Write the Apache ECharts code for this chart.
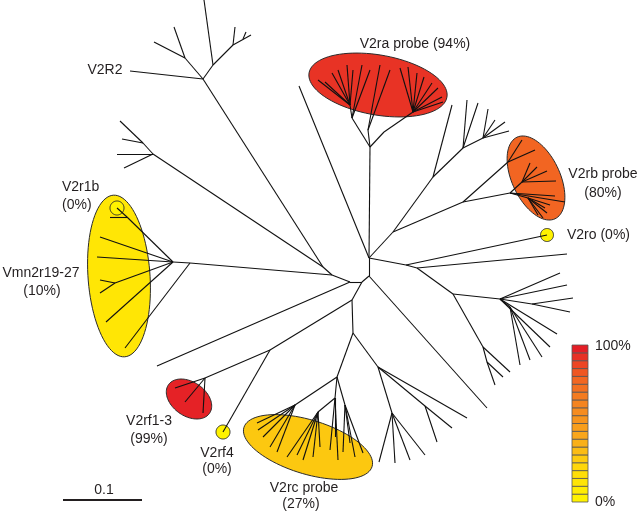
<!DOCTYPE html>
<html>
<head>
<meta charset="utf-8">
<script src="https://cdn.jsdelivr.net/npm/echarts@6/dist/echarts.min.js"></script>
<style>
html, body { margin: 0; padding: 0; background: #fff; }
#main { width: 640px; height: 513px; }
</style>
</head>
<body>
<div id="main"></div>
<script>
// tree: each entry is [parent node, [child nodes]], x right / y down
const backbone = [
  [[369, 258], [[370, 147], [299, 86], [393, 232], [406, 265], [369, 276]]],
  [[369, 276], [[487, 408], [362, 282]]],
  [[362, 282], [[350, 282], [352, 300]]],
  [[350, 282], [[332, 275], [157, 366]]],
  [[332, 275], [[323, 267], [190, 263]]],
  [[323, 267], [[203, 79], [153, 154]]],
  [[352, 300], [[353, 333], [270, 350]]]
];
const cladeV2R2 = [
  [[203, 79], [[130, 71], [185, 58], [213, 65]]],
  [[185, 58], [[154, 42], [174, 27]]],
  [[213, 65], [[204, 0], [233, 45]]],
  [[233, 45], [[235, 27], [251, 35]]],
  [[243, 39], [[246, 32]]]
];
const cladeUpperLeft = [
  [[153, 154], [[117, 154], [124, 168], [143, 143]]],
  [[143, 143], [[120, 121], [122, 139]]]
];
const cladeVmn = [
  [[190, 263], [[173, 262], [125, 348]]],
  [[173, 262], [[127, 217], [100, 237], [97, 257], [115, 283], [106, 322]]],
  [[127, 217], [[117, 208], [110, 217]]],
  [[115, 283], [[100, 280], [100, 293]]]
];
const cladeV2ra = [
  [[370, 147], [[352, 118], [368, 130], [384, 132]]],
  [[352, 118], [[350, 105], [362, 65], [370, 70]]],
  [[350, 105], [[318, 80], [325, 82], [332, 73], [338, 70], [347, 65], [353, 70]]],
  [[368, 130], [[380, 65], [390, 70]]],
  [[384, 132], [[413, 112]]],
  [[413, 112], [[400, 68], [408, 67], [417, 73], [424, 77], [432, 83], [438, 88], [442, 97], [443, 102]]]
];
const cladeUpperRight = [
  [[393, 232], [[433, 177], [463, 202]]],
  [[433, 177], [[452, 105], [463, 148]]],
  [[463, 148], [[467, 100], [478, 103], [483, 138]]],
  [[483, 138], [[488, 109], [495, 120], [505, 122], [509, 131]]]
];
const cladeV2rb = [
  [[463, 202], [[508, 162], [510, 193]]],
  [[508, 162], [[522, 140], [535, 150]]],
  [[510, 193], [[522, 182], [565, 202], [528, 198], [555, 196]]],
  [[522, 182], [[530, 163], [537, 167], [547, 171], [556, 181]]],
  [[528, 198], [[545, 208], [550, 205], [547, 213], [543, 218], [538, 215]]]
];
const cladeRight = [
  [[406, 265], [[547, 235], [417, 268]]],
  [[417, 268], [[567, 254], [453, 294]]],
  [[453, 294], [[500, 299], [483, 347]]],
  [[500, 299], [[560, 273], [567, 285], [532, 304], [557, 334], [550, 347], [510, 307]]],
  [[532, 304], [[573, 298], [570, 312]]],
  [[510, 307], [[520, 365], [530, 360], [542, 357]]],
  [[483, 347], [[487, 362], [510, 372]]],
  [[487, 362], [[495, 385], [503, 377]]]
];
const cladeLower = [
  [[353, 333], [[378, 367], [337, 377]]],
  [[378, 367], [[392, 413], [467, 418], [425, 406]]],
  [[392, 413], [[379, 462], [395, 463], [410, 460], [425, 455]]],
  [[425, 406], [[452, 428], [437, 442]]]
];
const cladeV2rc = [
  [[337, 377], [[335, 398], [345, 405], [295, 405]]],
  [[295, 405], [[257, 423], [258, 430], [263, 437], [270, 447], [277, 452]]],
  [[335, 398], [[318, 412], [330, 450], [335, 437], [338, 460]]],
  [[318, 412], [[287, 457], [297, 455], [303, 460], [313, 457], [320, 447]]],
  [[345, 405], [[343, 452], [350, 443], [355, 457], [363, 453]]]
];
const cladeV2rf = [
  [[270, 350], [[205, 378], [223, 432]]],
  [[205, 378], [[175, 388], [185, 402], [203, 413]]]
];

// highlighted groups: ellipse [cx, cy, semi-axis a, semi-axis b, tilt deg] and probe %
const groupNames = ['V2ra', 'V2rb', 'Vmn2r19-27', 'V2rc', 'V2rf1-3', 'V2r1b', 'V2ro', 'V2rf4'];
const groupPct = [94, 80, 10, 27, 99, 0, 0, 0];
const groupEllipse = [
  [378, 85, 70, 30, 10],
  [536, 178, 45, 24, 65],
  [119, 276, 81, 31, 86],
  [308, 447, 67, 27, 17],
  [189, 399, 25, 17, 35],
  [117, 208, 7, 7, 0],
  [547, 235, 6.5, 6.5, 0],
  [223, 432, 7, 7, 0]
];

// colour scale steps (bottom to top)
const scalePct = [0, 5, 11, 16, 21, 26, 32, 37, 42, 47, 53, 58, 63, 68, 74, 79, 84, 89, 95, 100];
const rampColors = ['#fff200', '#fed90a', '#f9a91a', '#f6891f', '#f26522', '#e41e26'];

function pctColor(p) {
  return echarts.color.lerp(p / 100, rampColors);
}

const clades = [backbone, cladeV2R2, cladeUpperLeft, cladeVmn, cladeV2ra, cladeUpperRight,
  cladeV2rb, cladeRight, cladeLower, cladeV2rc, cladeV2rf];
const segments = [];
clades.forEach(function (clade) {
  clade.forEach(function (fan) {
    fan[1].forEach(function (c) {
      segments.push({ coords: [fan[0], c] });
    });
  });
});

const ellipseData = groupEllipse.map(function (e, i) {
  return e.concat([groupPct[i]]);
});

const textFont = '14px "Liberation Sans", Arial, sans-serif';
const ink = '#231f20';
function label(text, x, y, align) {
  return {
    type: 'text', x: x, y: y, silent: true,
    style: { text: text, font: textFont, fill: ink, align: align || 'center', verticalAlign: 'middle',
      textAlign: align || 'center', textVerticalAlign: 'middle' }
  };
}

// colour bar
const barX = 572, barW = 16, barBottom = 502, cellH = 7.85;
const barCells = scalePct.map(function (p, i) {
  return {
    type: 'rect', silent: true,
    shape: { x: barX, y: barBottom - (i + 1) * cellH, width: barW, height: cellH },
    style: { fill: pctColor(p), stroke: '#555', lineWidth: 0.8 }
  };
});

const chart = echarts.init(document.getElementById('main'));
chart.setOption({
  animation: false,
  backgroundColor: '#fff',
  grid: { left: 0, right: 0, top: 0, bottom: 0 },
  xAxis: { type: 'value', min: 0, max: 640, show: false },
  yAxis: { type: 'value', min: 0, max: 513, inverse: true, show: false },
  series: [
    {
      type: 'custom',
      z: 1,
      silent: true,
      data: ellipseData,
      renderItem: function (params, api) {
        const cx = api.value(0), cy = api.value(1), a = api.value(2), b = api.value(3);
        const t = api.value(4) * Math.PI / 180;
        const pts = [];
        for (let k = 0; k < 90; k++) {
          const u = k / 90 * Math.PI * 2;
          const ex = a * Math.cos(u), ey = b * Math.sin(u);
          pts.push(api.coord([cx + ex * Math.cos(t) - ey * Math.sin(t), cy + ex * Math.sin(t) + ey * Math.cos(t)]));
        }
        return {
          type: 'polygon',
          shape: { points: pts },
          style: { fill: pctColor(api.value(5)), stroke: '#2b2b2b', lineWidth: 1 }
        };
      }
    },
    {
      type: 'lines',
      coordinateSystem: 'cartesian2d',
      z: 2,
      silent: true,
      data: segments,
      lineStyle: { color: '#111', width: 1.1, opacity: 1 }
    }
  ],
  graphic: [
    label('V2R2', 105, 70),
    label('V2ra probe (94%)', 415, 44),
    label('V2rb probe', 603, 174),
    label('(80%)', 603, 193),
    label('V2ro (0%)', 567, 235, 'left'),
    label('V2r1b', 62, 187, 'left'),
    label('(0%)', 62, 205, 'left'),
    label('Vmn2r19-27', 41, 273),
    label('(10%)', 42, 291),
    label('V2rf1-3', 149, 421),
    label('(99%)', 149, 439),
    label('V2rf4', 217, 453),
    label('(0%)', 217, 469),
    label('V2rc probe', 304, 488),
    label('(27%)', 301, 504),
    label('0.1', 104, 490),
    label('100%', 595, 346, 'left'),
    label('0%', 595, 502, 'left'),
    {
      type: 'line', silent: true,
      shape: { x1: 63, y1: 500, x2: 142, y2: 500 },
      style: { stroke: ink, lineWidth: 2 }
    }
  ].concat(barCells)
});
</script>
</body>
</html>
